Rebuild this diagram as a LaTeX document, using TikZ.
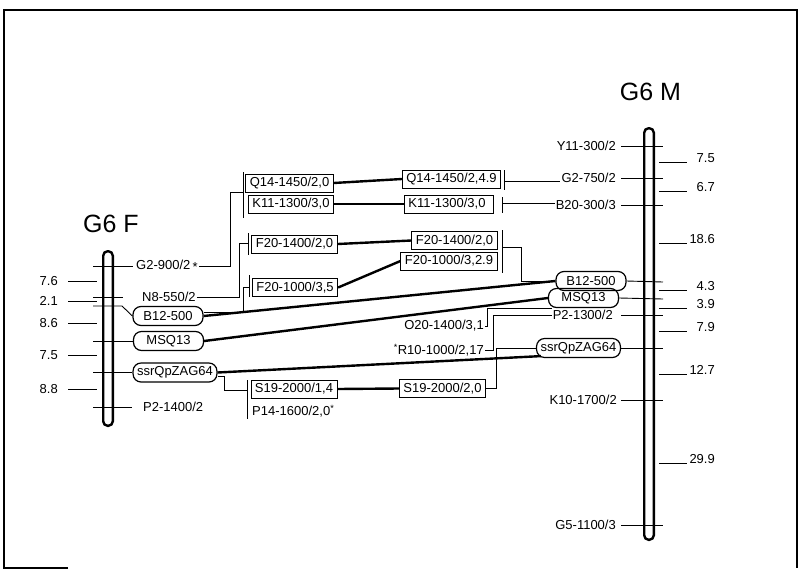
\documentclass[tikz,border=0pt]{standalone}
\usepackage{fontspec}
\setmainfont{Liberation Sans}
\usetikzlibrary{arrows,arrows.meta}

\begin{document}
\begin{tikzpicture}[x=1pt,y=-1pt,
lbl/.style={font=\fontsize{13}{15}\selectfont,inner sep=1pt},
title/.style={font=\fontsize{25}{30}\selectfont,inner sep=0pt},
box/.style={draw,line width=0.9pt,font=\fontsize{13}{15}\selectfont,inner xsep=4pt,inner ysep=2pt,minimum height=18pt},
oval/.style={draw,line width=1.2pt,rounded corners=8pt,font=\fontsize{13}{15}\selectfont,inner xsep=4pt,inner ysep=2pt,minimum width=70pt,minimum height=19pt},
rod/.style={draw,line width=2.4pt,rounded corners=4.5pt,minimum width=9.6pt},
wire/.style={line width=0.9pt},
link/.style={line width=2.4pt},
bar/.style={line width=1pt}]

\useasboundingbox (0,0) rectangle (801,571);
\draw[line width=1.2pt] (68,568) -- (4,568) -- (4,10) -- (797,10) -- (797,568);

\node[title](tF) at (111,224) {G6 F};
\node[title](tM) at (650.5,91.5) {G6 M};

\node[rod,minimum height=174.6pt](chrF) at (108,338.5) {};
\node[rod,minimum height=411.6pt](chrM) at (649,334) {};

\coordinate (Lt) at (93,0);
\coordinate (Ri) at (621,0);
\coordinate (Rt) at (663,0);

\node[lbl,anchor=west](g2F) at (135,266) {G2-900/2\,\raisebox{-2pt}{*}};
\node[lbl,anchor=west](n8F) at (141,297) {N8-550/2};
\node[lbl,anchor=west](p2F) at (142,407) {P2-1400/2};
\node[oval](b12F) at (168,316) {B12-500};
\node[oval](msqF) at (168.5,341) {MSQ13};
\node[oval](ssrF) at (175,372.5) {ssrQpZAG64};

\draw[wire] (g2F.west -| Lt) -- ([xshift=-2pt]g2F.west);
\draw[wire] (n8F.west -| Lt) -- ++(30,0);
\draw[wire] (p2F.west -| Lt) -- ([xshift=-10pt]p2F.west);
\draw[wire] (93,306) -- (122,306) -- (b12F.west);
\draw[wire] (msqF.west -| Lt) -- (msqF.west);
\draw[wire] (ssrF.west -| Lt) -- (ssrF.west);

\foreach \y/\d [count=\i] in {281/7.6,301/2.1,323/8.6,355/7.5,389/8.8}{
  \draw[wire] (68,\y) -- (97,\y);
  \node[lbl,anchor=east](dF\i) at (59,\y) {\d};
}

\node[lbl,anchor=east](y11M) at (617,146) {Y11-300/2};
\node[lbl,anchor=east](g2M) at (617,178) {G2-750/2};
\node[lbl,anchor=east](b20M) at (617,205) {B20-300/3};
\node[lbl,anchor=east](p2M) at (614,315) {P2-1300/2};
\node[lbl,anchor=east](k10M) at (618,400) {K10-1700/2};
\node[lbl,anchor=east](g5M) at (617,525) {G5-1100/3};
\node[oval](b12M) at (591,281) {B12-500};
\node[oval](msqM) at (583.5,298) {MSQ13};
\node[oval](ssrM) at (578.5,348) {ssrQpZAG64};

\foreach \n in {y11M,g2M,b20M,p2M,k10M,g5M}
  \draw[wire] (\n.east -| Ri) -- (\n.east -| Rt);
\draw[wire] (b12M.east) -- ([yshift=-1pt]b12M.east -| Rt);
\draw[wire] (msqM.east) -- ([yshift=-1pt]msqM.east -| Rt);
\draw[wire] (ssrM.east) -- (ssrM.east -| Rt);

\foreach \y/\d [count=\i] in {162/7.5,191/6.7,243/18.6,290/4.3,308/3.9,331/7.9,374/12.7,463/29.9}{
  \draw[wire] (659,\y) -- (687,\y);
  \node[lbl,anchor=base east](dM\i) at (716,\y) {\d};
}

\node[box](q14a) at (289.5,183) {Q14-1450/2,0};
\node[box](k11a) at (291,204) {K11-1300/3,0};
\node[box](q14b) at (451.5,179) {Q14-1450/2,4.9};
\node[box](k11b) at (449,204) {K11-1300/3,0\hspace*{4pt}};
\node[box](f20a) at (294.5,244) {F20-1400/2,0};
\node[box](f20b) at (295,287.5) {F20-1000/3,5};
\node[box](f20c) at (454.5,240.5) {F20-1400/2,0};
\node[box](f20d) at (449,261) {F20-1000/3,2.9};
\node[box](s19a) at (294,389) {S19-2000/1,4};
\node[box](s19b) at (442.5,388.5) {S19-2000/2,0};
\node[lbl,anchor=west](p14) at (251,411) {P14-1600/2,0\textsuperscript{*}};
\node[lbl,anchor=east](o20) at (485,326) {O20-1400/3,1};
\node[lbl,anchor=east](r10) at (485,350) {\textsuperscript{*}R10-1000/2,17};

\coordinate (qkL) at (243.5,192);
\coordinate (f20aL) at (248,243);
\coordinate (f20bL) at (249,287);
\coordinate (q14R) at (504,181);
\coordinate (k11R) at (502,203);
\coordinate (f20R) at (502,247);
\coordinate (s19L) at (247,390);

\draw[bar] (243.5,172) -- (243.5,218);
\draw[bar] (248,233) -- (248,255);
\draw[bar] (249,275) -- (249,297);
\draw[bar] (504,170) -- (504,190);
\draw[bar] (502,197) -- (502,213);
\draw[bar] (502,230) -- (502,273);
\draw[bar] (247,380) -- (247,419);

\draw[wire] (g2F.east) -| (230,192) -- (qkL);
\draw[wire] (n8F.east) -| (239,243) -- (f20aL);
\draw[wire] ([yshift=4pt]b12F.east) -| (243,287) -- (f20bL);
\draw[wire] ([yshift=-4pt]ssrF.east) -- ++(7,0) |- (s19L);
\draw[wire] (q14R) -- (q14R -| g2M.west);
\draw[wire] (k11R) -- (k11R -| b20M.west);
\draw[wire] (f20R) -| ([xshift=-34pt]b12M.west) -- (b12M.west);
\draw[wire] (s19b.east) -- ++(10,0) |- (ssrM.west);
\draw[wire] (o20.east) -- ++(2,0) |- ([xshift=4pt]msqM.south west);
\draw[wire] (r10.east) -- ++(8,0) |- (p2M.west);

\draw[link] (q14a.east) -- (q14b.west);
\draw[link] (k11a.east) -- (k11b.west);
\draw[link] (f20a.east) -- (f20c.west);
\draw[link] (f20b.east) -- (f20d.west);
\draw[link] (s19a.east) -- (s19b.west);
\draw[link] (b12F.east) -- (b12M.west);
\draw[link] (msqF.east) -- (msqM.west);
\draw[link] (ssrF.east) -- ([xshift=5pt,yshift=2pt]ssrM.south west);

\end{tikzpicture}
\end{document}
